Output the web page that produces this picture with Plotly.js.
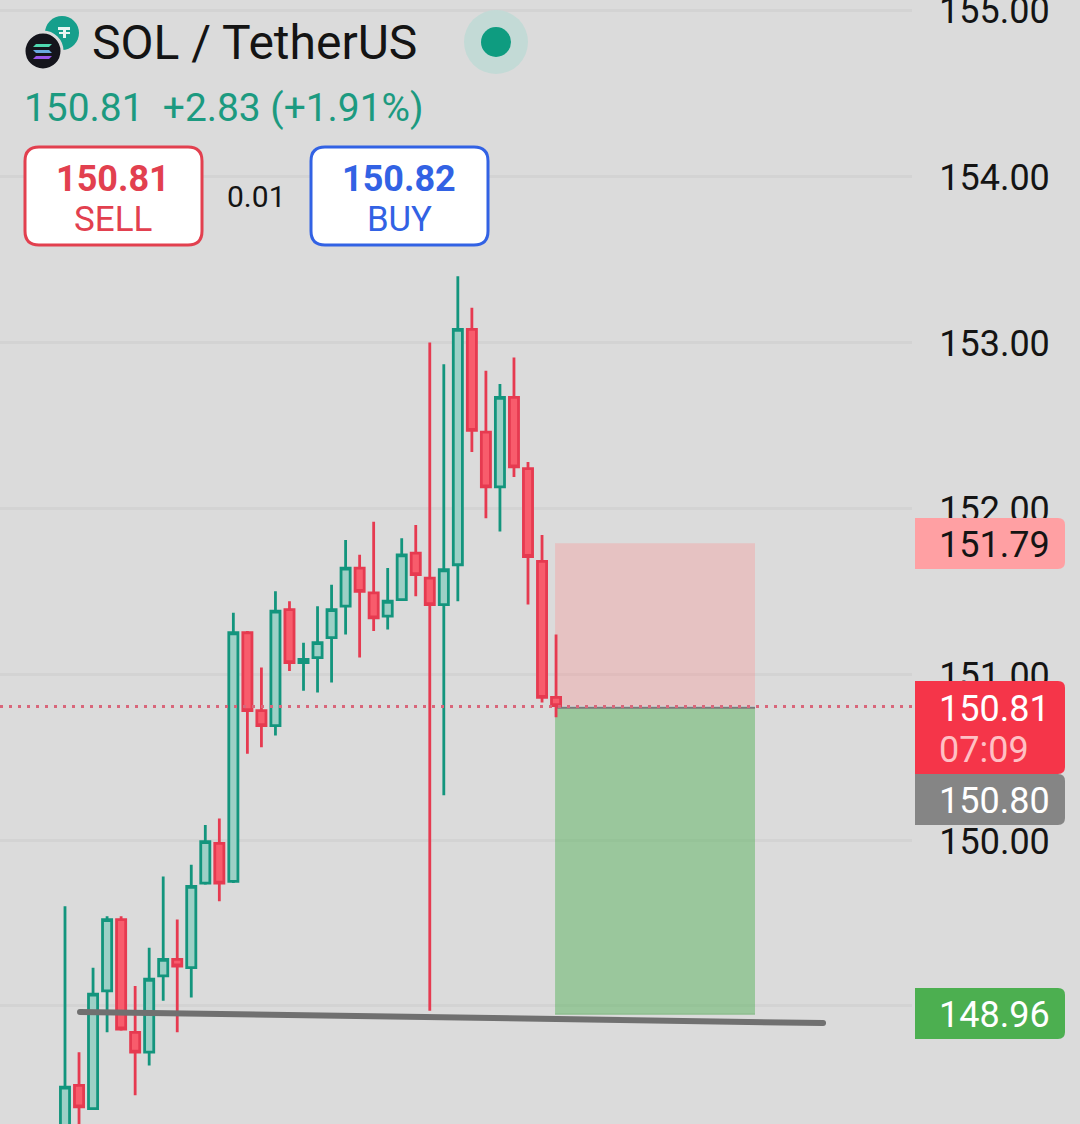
<!DOCTYPE html>
<html>
<head>
<meta charset="utf-8">
<script src="https://cdn.plot.ly/plotly-3.0.1.min.js"></script>
<style>
html,body{margin:0;padding:0;background:#dbdbdb;overflow:hidden}
#chart{width:1080px;height:1124px}
.scatterlayer .js-line{stroke-linecap:round !important}
</style>
</head>
<body>
<div id="chart"></div>
<script>
// ---- data ----
var candleIndex = [0,1,2,3,4,5,6,7,8,9,10,11,12,13,14,15,16,17,18,19,20,21,22,23,24,25,26,27,28,29,30,31,32,33,34,35];
var openPrices  = [148.13,148.52,148.38,149.09,149.52,148.84,148.72,149.18,149.28,149.23,149.74,149.98,149.75,151.25,150.78,150.69,151.39,151.07,151.10,151.22,151.41,151.64,151.49,151.35,151.45,151.73,151.58,151.42,151.66,153.08,152.46,152.13,152.67,152.24,151.68,150.86];
var highPrices  = [149.60,148.72,149.23,149.54,149.54,149.12,149.35,149.78,149.52,149.85,150.09,150.13,151.37,151.26,151.04,151.50,151.44,151.19,151.41,151.54,151.81,151.72,151.92,151.64,151.82,151.90,153.00,152.87,153.40,153.21,152.83,152.75,152.91,152.28,151.84,151.24];
var lowPrices   = [147.95,148.22,148.38,148.84,148.85,148.46,148.64,149.03,148.84,149.05,149.73,149.63,149.74,150.52,150.56,150.63,151.02,150.90,150.89,150.95,151.24,151.10,151.26,151.27,151.45,151.47,148.97,150.27,151.44,152.34,151.94,151.86,152.19,151.42,150.83,150.74];
var closePrices = [148.51,148.39,149.07,149.52,148.86,148.72,149.16,149.28,149.24,149.72,149.99,149.74,151.25,150.78,150.69,151.38,151.07,151.09,151.19,151.39,151.64,151.50,151.34,151.44,151.72,151.60,151.42,151.63,153.08,152.47,152.13,152.67,152.25,151.71,150.86,150.81];
var axisTicks   = [155,154,153,152,151,150,149];
var axisLabels  = ['','154.00','153.00','152.00','151.00','150.00',''];
var topLabel = '155.00';
var lastPrice = 150.81, stopPrice = 151.79, targetPrice = 148.96;
var zoneStart = 34.93, zoneEnd = 49.18;
var trendX = [1.07, 54.03], trendY = [148.963, 148.896];

// ---- helpers: page pixels to paper fractions (layout chrome only) ----
var W = 912, H = 1124;
function px(x){ return x / W; }
function py(y){ return 1 - y / H; }
function roundRect(x0,y0,x1,y1,r,left){
  var rl = left === undefined ? r : left;
  return 'M'+px(x0+rl)+','+py(y0)+' L'+px(x1-r)+','+py(y0)+' Q'+px(x1)+','+py(y0)+' '+px(x1)+','+py(y0+r)+
         ' L'+px(x1)+','+py(y1-r)+' Q'+px(x1)+','+py(y1)+' '+px(x1-r)+','+py(y1)+
         ' L'+px(x0+rl)+','+py(y1)+' Q'+px(x0)+','+py(y1)+' '+px(x0)+','+py(y1-rl)+
         ' L'+px(x0)+','+py(y0+rl)+' Q'+px(x0)+','+py(y0)+' '+px(x0+rl)+','+py(y0)+' Z';
}
function pathShape(d, fill, lineColor, lineWidth){
  return {type:'path', xref:'paper', yref:'paper', path:d, fillcolor:fill, layer:'above',
          line:{color:lineColor||fill, width:lineWidth===undefined?0:lineWidth}};
}
function circle(cx,cy,r,fill,lineColor,lineWidth){
  return {type:'circle', xref:'paper', yref:'paper', x0:px(cx-r), x1:px(cx+r), y0:py(cy+r), y1:py(cy-r),
          fillcolor:fill, layer:'above', line:{color:lineColor||fill, width:lineWidth||0}};
}
function poly(points, fill){
  return pathShape('M'+points.map(function(p){return px(p[0])+','+py(p[1]);}).join(' L')+' Z', fill);
}
function text(x,y,t,size,color,anchor,weight){
  return {xref:'paper', yref:'paper', x:px(x), y:py(y), text:t, showarrow:false, xanchor:anchor||'left', yanchor:'middle',
          borderpad:0, font:{family:'Roboto, sans-serif', size:size, color:color, weight:weight||400}};
}

var GREEN='#13957d', RED='#e63a50';

var traces = [
  {type:'candlestick', x:candleIndex, open:openPrices, high:highPrices, low:lowPrices, close:closePrices,
   increasing:{line:{color:GREEN,width:2.8}, fillcolor:'#9dd0c6'},
   decreasing:{line:{color:RED,width:2.8}, fillcolor:'#f85c6c'},
   whiskerwidth:0, hoverinfo:'skip'},
  {type:'scatter', mode:'lines', x:trendX, y:trendY, line:{color:'#707070',width:6}, hoverinfo:'skip'}
];

var shapes = [
  {type:'rect', xref:'x', yref:'y', x0:zoneStart, x1:zoneEnd, y0:lastPrice, y1:stopPrice, layer:'between',
   fillcolor:'rgba(255,135,135,0.3)', line:{width:0}},
  {type:'rect', xref:'x', yref:'y', x0:zoneStart, x1:zoneEnd, y0:lastPrice-0.01, y1:targetPrice-0.01, layer:'between',
   fillcolor:'rgba(76,175,80,0.45)', line:{width:0}},
  {type:'line', xref:'x', yref:'y', x0:zoneStart, x1:zoneEnd, y0:lastPrice-0.012, y1:lastPrice-0.012, layer:'between',
   line:{color:'#7a7a7a', width:2}},
  {type:'line', xref:'x', yref:'y', x0:zoneStart, x1:zoneEnd, y0:targetPrice-0.01, y1:targetPrice-0.01, layer:'between',
   line:{color:'#8fbe90', width:1.5}},
  {type:'line', xref:'paper', yref:'y', x0:0, x1:1, y0:lastPrice-0.005, y1:lastPrice-0.005, layer:'above',
   line:{color:'#d9667a', width:3, dash:'3px,6px'}},
  // price tags
  pathShape(roundRect(915,518,1065,569,7,0), '#ffa0a3'),
  pathShape(roundRect(915,681,1065,774,7,0), '#f53549'),
  pathShape(roundRect(915,774,1065,825,7,0), '#858585'),
  pathShape(roundRect(915,988,1065,1039,7,0), '#4caf50'),
  // sell / buy buttons
  pathShape(roundRect(25,147,202,245,14), '#ffffff', '#e2404f', 3),
  pathShape(roundRect(311,147,488,245,14), '#ffffff', '#3262e4', 3),
  // market-open dot
  circle(496,42,32,'#c3dad6'),
  circle(496,42,15,'#0e9c80'),
  // tether logo
  circle(62,33,17,'#169f8c'),
  poly([[58,27],[70,27],[70,30],[66,30],[66,32],[70,32],[70,34],[66,34],[66,38],[63,38],[63,34],[59,34],[59,32],[63,32],[63,30],[58,30]], '#e8f5f2'),
  // solana logo
  circle(43,51,19,'#15151c','#dbdbdb',3),
  poly([[36,44],[52,44],[49,47],[33,47]], '#4fd8b0'),
  poly([[33,50],[49,50],[52,53],[36,53]], '#6aa8e0'),
  poly([[36,56],[52,56],[49,59],[33,59]], '#9a55ea')
];

var annotations = [
  text(938,11,topLabel,36,'#141414'),
  text(91,43,'SOL / TetherUS',48,'#141414'),
  text(23,107,'150.81\u00a0\u00a0+2.83 (+1.91%)',38.9,'#1c9a80'),
  text(113,179,'150.81',36,'#e2404f','center',700),
  text(113,219,'SELL',35,'#e2404f','center'),
  text(256,196,'0.01',30,'#141414','center'),
  text(399,179,'150.82',36,'#3262e4','center',700),
  text(399,219,'BUY',34.7,'#3262e4','center'),
  text(938,545,stopPrice.toFixed(2),36,'#141414'),
  text(938,709,lastPrice.toFixed(2),36,'#ffffff'),
  text(938,750,'07:09',36,'#ffc0c4'),
  text(938,801,'150.80',36,'#ffffff'),
  text(938,1015,targetPrice.toFixed(2),36,'#ffffff')
];

var layout = {
  width:1080, height:1124, margin:{l:0,r:168,t:0,b:0,pad:0},
  paper_bgcolor:'#dbdbdb', plot_bgcolor:'#dbdbdb', showlegend:false, hovermode:false,
  boxmode:'group', boxgap:0.35, boxgroupgap:0,
  xaxis:{type:'linear', range:[-4.633,60.37], visible:false, fixedrange:true, rangeslider:{visible:false}},
  yaxis:{side:'right', range:[148.2871,155.0663], tickvals:axisTicks, ticktext:axisLabels, showgrid:true,
         gridcolor:'#d3d3d3', gridwidth:3, zeroline:false, showline:false, ticks:'outside', ticklen:19, tickcolor:'#dbdbdb',
         tickwidth:1, ticklabelshift:1, tickfont:{family:'Roboto, sans-serif', size:36, color:'#141414'}, fixedrange:true},
  shapes:shapes, annotations:annotations
};
Plotly.newPlot('chart', traces, layout, {displayModeBar:false, staticPlot:true});
</script>
</body>
</html>
